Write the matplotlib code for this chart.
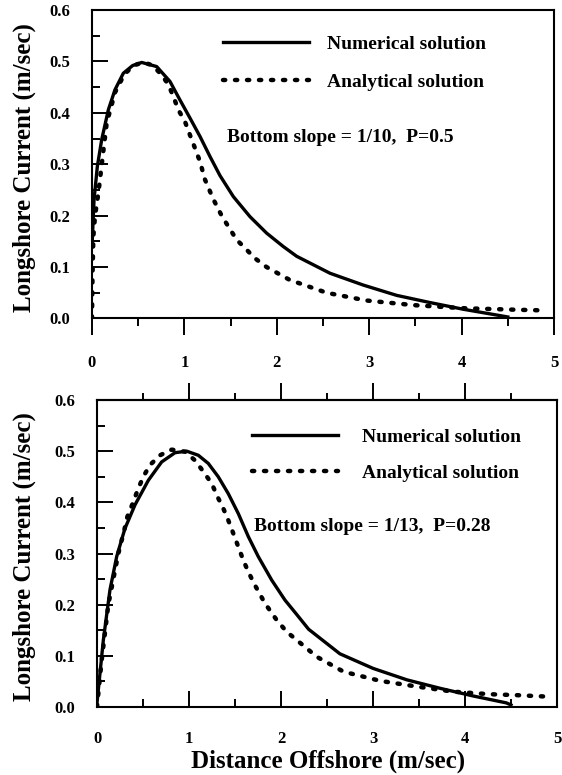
import numpy as np
import matplotlib
matplotlib.use('Agg')
import matplotlib.pyplot as plt
from matplotlib.ticker import MultipleLocator

# longshore current profiles, slope 1/10 (top) and slope 1/13 (bottom)
top_x_num = [0.0, 0.022, 0.058, 0.105, 0.177, 0.249, 0.339, 0.44, 0.538, 0.70, 0.844, 0.952,
             1.06, 1.169, 1.277, 1.385, 1.53, 1.71, 1.89, 2.07, 2.215, 2.576, 2.936, 3.297,
             3.658, 4.018, 4.307, 4.5]
top_y_num = [0.14, 0.231, 0.296, 0.348, 0.406, 0.445, 0.477, 0.492, 0.498, 0.49, 0.461, 0.425,
             0.39, 0.354, 0.315, 0.278, 0.237, 0.198, 0.166, 0.140, 0.121, 0.088, 0.065, 0.045,
             0.031, 0.018, 0.009, 0.003]

top_x_ana = [0.0, 0.005, 0.015, 0.033, 0.069, 0.105, 0.159, 0.25, 0.35, 0.45, 0.55, 0.65, 0.754,
             0.826, 0.88, 0.934, 1.006, 1.06, 1.115, 1.169, 1.223, 1.313, 1.403, 1.475, 1.566,
             1.656, 1.764, 1.89, 2.14, 2.54, 2.97, 3.48, 4.02, 4.6, 4.83]
top_y_ana = [0.0, 0.08, 0.16, 0.20, 0.244, 0.299, 0.38, 0.44, 0.475, 0.492, 0.498, 0.493, 0.474,
             0.455, 0.432, 0.406, 0.383, 0.357, 0.331, 0.305, 0.27, 0.232, 0.20, 0.179, 0.153,
             0.137, 0.117, 0.10, 0.075, 0.05, 0.035, 0.026, 0.020, 0.017, 0.016]

bot_x_num = [0.0, 0.069, 0.141, 0.214, 0.304, 0.413, 0.558, 0.703, 0.848, 0.975, 1.101, 1.21,
             1.318, 1.427, 1.536, 1.645, 1.753, 1.899, 2.043, 2.152, 2.30, 2.64, 3.0, 3.37,
             3.73, 4.09, 4.45, 4.5]
bot_y_num = [0.008, 0.131, 0.229, 0.294, 0.349, 0.395, 0.443, 0.479, 0.497, 0.50, 0.492, 0.476,
             0.45, 0.417, 0.378, 0.333, 0.294, 0.248, 0.209, 0.185, 0.152, 0.104, 0.0755, 0.053,
             0.0365, 0.0215, 0.008, 0.004]

bot_x_ana = [0.0, 0.05, 0.123, 0.232, 0.297, 0.33, 0.395, 0.442, 0.503, 0.576, 0.685, 0.812,
             0.957, 1.065, 1.156, 1.246, 1.318, 1.373, 1.427, 1.482, 1.536, 1.59, 1.645, 1.717,
             1.826, 1.953, 2.062, 2.17, 2.39, 2.68, 3.08, 3.475, 3.87, 4.27, 4.58, 4.93]
bot_y_ana = [0.0, 0.09, 0.20, 0.30, 0.346, 0.372, 0.401, 0.424, 0.45, 0.473, 0.492, 0.503,
             0.499, 0.482, 0.46, 0.437, 0.408, 0.388, 0.365, 0.339, 0.313, 0.287, 0.264, 0.238,
             0.2025, 0.17, 0.147, 0.131, 0.098, 0.069, 0.051, 0.04, 0.03, 0.025, 0.023, 0.02]

y_ticks = [0.0, 0.1, 0.2, 0.3, 0.4, 0.5, 0.6]
y_labels = ['0.0', '0.1', '0.2', '0.3', '0.4', '0.5', '0.6']
x_ticks = [0, 1, 2, 3, 4, 5]
x_labels = ['0', '1', '2', '3', '4', '5']

plt.rcParams['font.family'] = 'Liberation Serif'
plt.rcParams['font.weight'] = 'bold'
plt.rcParams['axes.labelweight'] = 'bold'

fig = plt.figure(figsize=(5.62, 7.75), dpi=100)
ax1 = fig.add_axes([92/562, 1-318.5/775, 462/562, 308.5/775])
ax2 = fig.add_axes([97/562, 1-707/775, 460/562, 307/775])

dots = (0, (0.5, 2.2))

def draw_panel(ax, xn, yn, xa, ya, note, note_x, leg_x, leg_y, spacing, textpad):
	ax.plot(xn, yn, color='black', lw=2.4, label='Numerical solution')
	ax.plot(xa, ya, color='black', lw=3.2, ls=dots, dash_capstyle='round', label='Analytical solution')
	ax.set_xlim(0, 5)
	ax.set_ylim(0, 0.6)
	ax.set_yticks(y_ticks)
	ax.set_yticklabels(y_labels)
	ax.set_xticks(x_ticks)
	ax.set_xticklabels(x_labels)
	ax.xaxis.set_minor_locator(MultipleLocator(0.5))
	ax.yaxis.set_minor_locator(MultipleLocator(0.05))
	for s in ax.spines.values():
		s.set_linewidth(1.5)
	ax.tick_params(axis='y', which='major', direction='in', length=11.5, width=1.4, labelsize=12, pad=16)
	ax.tick_params(axis='y', which='minor', direction='in', length=6, width=1.4)
	ax.set_ylabel('Longshore Current (m/sec)', fontsize=18)
	ax.legend(loc='upper left', bbox_to_anchor=(leg_x, leg_y), frameon=False, borderpad=0,
			  borderaxespad=0, handlelength=4.4, handletextpad=textpad, labelspacing=spacing,
			  prop={'size': 14, 'weight': 'bold'})
	ax.text(note_x, 0.352, note, fontsize=14, va='center', ha='left')

draw_panel(ax1, top_x_num, top_y_num, top_x_ana, top_y_ana, 'Bottom slope = 1/10,  P=0.5',
		   1.46, 0.284, 0.918, 1.05, 0.95)
draw_panel(ax2, bot_x_num, bot_y_num, bot_x_ana, bot_y_ana, 'Bottom slope = 1/13,  P=0.28',
		   1.71, 0.337, 0.908, 0.95, 1.25)

# top panel: distance ticks hang below the axis
ax1.tick_params(axis='x', which='major', direction='out', length=12, width=1.4, labelsize=12, pad=14)
ax1.tick_params(axis='x', which='minor', direction='out', length=6, width=1.4)
ax1.yaxis.set_label_coords(-0.121, 0.49)

# bottom panel: ticks point inward, extra ticks above the top edge
ax2.tick_params(axis='x', which='major', direction='in', length=11.5, width=1.4, labelsize=12, pad=14)
ax2.tick_params(axis='x', which='minor', direction='in', length=6, width=1.4)
ax2.set_xticks([1, 2, 3, 4])
ax2.set_xticklabels([], minor=False)
top = ax2.secondary_xaxis('top')
top.set_xticks([1, 2, 3, 4])
top.set_xticks([0.5, 1.5, 2.5, 3.5, 4.5], minor=True)
top.tick_params(axis='x', which='major', direction='out', length=12, width=1.4, labeltop=False)
top.tick_params(axis='x', which='minor', direction='out', length=5, width=1.4)
top.spines['top'].set_linewidth(1.5)
ax2.yaxis.set_label_coords(-0.133, 0.49)
ax2.set_xlabel('Distance Offshore (m/sec)', fontsize=18)
ax2.xaxis.set_label_coords(0.502, -0.14)

# bottom tick labels still sit at 0..5
for xv, lab in zip(x_ticks, x_labels):
	ax2.annotate(lab, xy=(xv, 0), xycoords=('data', 'axes fraction'), xytext=(0, -17),
				 textcoords='offset points', ha='center', va='top', fontsize=12)

fig.savefig('out.png', dpi=100)
